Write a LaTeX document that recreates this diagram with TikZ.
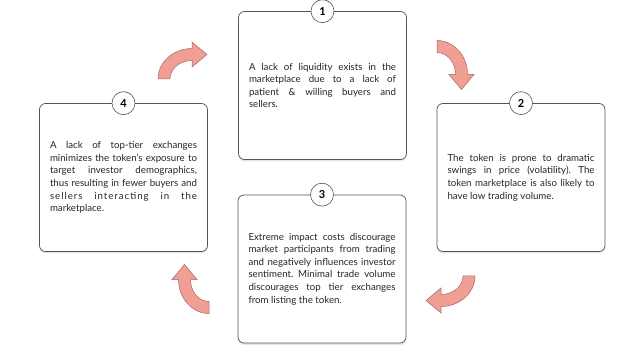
\documentclass[tikz,border=0pt]{standalone}
\usepackage{fontspec}
\setmainfont{Lato}
\usetikzlibrary{shadows}

\definecolor{arrowfill}{RGB}{241,158,148}
\definecolor{arrowline}{RGB}{160,105,100}
\definecolor{boxline}{RGB}{85,85,85}

\tikzset{
  stepcard/.style={draw=boxline, line width=0.7pt, rounded corners=6pt, fill=white,
    minimum width=168pt, minimum height=148pt, text width=147pt, align=justify,
    font=\fontsize{9.7}{12.6}\selectfont\frenchspacing, text=black!85,
    drop shadow={shadow xshift=0pt, shadow yshift=-2pt, opacity=0.2}},
  numbadge/.style={circle, draw=boxline, line width=0.6pt, fill=white,
    minimum size=23pt, inner sep=0pt, font=\fontsize{11}{11}\selectfont\bfseries},
  % curved block arrow, base at the origin, leaving upwards and turning right
  curvedarrow/.pic={
    \draw[fill=arrowfill, draw=arrowline, line width=0.5pt]
      (-6,0) arc[start angle=180, end angle=90, x radius=34, y radius=30.5]
      -- (28,37) -- (43,24.5) -- (28,12) -- (28,18.5)
      arc[start angle=90, end angle=180, x radius=22, y radius=18.5] -- cycle;
  }
}

\begin{document}
\begin{tikzpicture}[x=1pt, y=1pt]
  \useasboundingbox (0,0) rectangle (638,354);

  % the four steps of the cycle
  \node[stepcard] (liquidity) at (322.5,268.5)
    {A lack of liquidity exists in the\linebreak marketplace due to a lack of\linebreak
     patient \& willing buyers and\linebreak sellers.};
  \node[stepcard] (volatility) at (521,176.5)
    {The token is prone to dramatic\linebreak swings in price (volatility). The\linebreak
     token marketplace is also likely to\linebreak have low trading volume.};
  \node[stepcard] (impact) at (322,85)
    {Extreme impact costs discourage\linebreak market participants from trading\linebreak
     and negatively influences investor\linebreak sentiment. Minimal trade volume\linebreak
     discourages top tier exchanges\linebreak from listing the token.};
  \node[stepcard] (exposure) at (123.5,176.5)
    {A lack of top-tier exchanges\linebreak minimizes the token’s exposure to\linebreak
     target investor demographics,\linebreak thus resulting in fewer buyers and\linebreak
     {\addfontfeature{LetterSpace=10}sellers interacting in the}\linebreak marketplace.};

  % step numbers
  \node[numbadge] (n1) at (liquidity.north) {1};
  \node[numbadge] (n2) at (volatility.north) {2};
  \node[numbadge] (n3) at (impact.north) {3};
  \node[numbadge] (n4) at (exposure.north) {4};

  % arrows between the steps
  \pic at (164,275) {curvedarrow};
  \pic[rotate=-90] at (437,307.5) {curvedarrow};
  \pic[rotate=180] at (469,78) {curvedarrow};
  \pic[rotate=90] at (209,46.5) {curvedarrow};
\end{tikzpicture}
\end{document}
